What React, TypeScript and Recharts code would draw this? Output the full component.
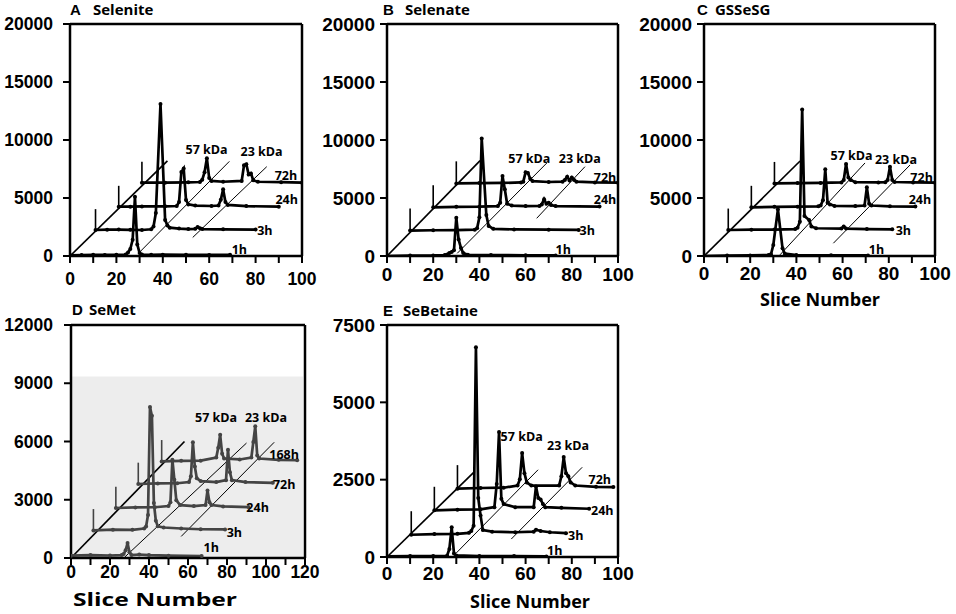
import React from 'react';
import { LineChart, Line, XAxis, YAxis, ReferenceLine, ReferenceDot, ReferenceArea } from 'recharts';

type Pt = [number, number];

// ---------------- Panel A : Selenite ----------------
const A_names = ['1h', '3h', '24h', '72h'];
const A_sliceOffset = [0, 11, 21, 31];
const A_countOffset = [0, 2240, 4250, 6320];
const A_1h: Pt[] = [[0,60],[5,80],[10,100],[15,90],[20,100],[24,120],[25,300],[26,600],[27,1400],[28,5100],[29,1000],[30,250],[31,120],[35,100],[40,110],[50,100],[60,90],[69,100]];
const A_3h: Pt[] = [[0,0],[5,30],[10,40],[15,20],[20,0],[24,60],[25,300],[26,1460],[28,10860],[30,860],[31,400],[32,200],[36,120],[40,80],[43,100],[44,250],[45,150],[46,80],[55,60],[69,40]];
const A_24h: Pt[] = [[0,0],[5,0],[10,20],[20,30],[25,60],[26,400],[27,3000],[28,3300],[29,580],[30,200],[33,100],[40,60],[43,100],[44,600],[45,1500],[46,400],[47,150],[55,50],[69,0]];
const A_72h: Pt[] = [[0,0],[10,0],[20,30],[25,60],[26,250],[27,900],[28,2100],[29,400],[30,150],[35,80],[43,150],[44,1500],[45,1600],[46,700],[47,800],[48,200],[50,80],[60,40],[69,0]];

// ---------------- Panel B : Selenate ----------------
const B_names = ['1h', '3h', '24h', '72h'];
const B_sliceOffset = [0, 10, 20, 30];
const B_countOffset = [0, 2190, 4200, 6260];
const B_1h: Pt[] = [[0,0],[10,40],[20,50],[25,80],[27,250],[28,350],[29,500],[30,3300],[31,1430],[32,700],[33,250],[35,100],[45,80],[60,60],[73,50]];
const B_3h: Pt[] = [[0,0],[10,30],[20,40],[28,80],[29,200],[30,1140],[31,7940],[33,1340],[34,400],[36,150],[45,100],[60,80],[73,60]];
const B_24h: Pt[] = [[0,0],[10,40],[20,50],[28,100],[29,400],[30,2700],[31,1550],[32,300],[34,150],[40,100],[46,120],[47,250],[48,700],[49,300],[50,400],[51,200],[53,100],[72,60]];
const B_72h: Pt[] = [[0,0],[10,30],[20,40],[28,80],[29,150],[30,960],[31,900],[32,400],[33,200],[40,120],[46,150],[47,300],[48,580],[49,250],[50,500],[51,300],[52,150],[60,80],[70,60]];

// ---------------- Panel C : GSSeSG ----------------
const C_names = ['1h', '3h', '24h', '72h'];
const C_sliceOffset = [0, 10.5, 20.5, 30.5];
const C_countOffset = [0, 2240, 4200, 6260];
const C_1h: Pt[] = [[0,0],[10,40],[20,50],[28,80],[29,150],[30,950],[32,4020],[34,660],[35,200],[40,80],[55,60],[71,50]];
const C_3h: Pt[] = [[0,0],[10,30],[20,40],[29,80],[30,200],[31,720],[32,10400],[33,1200],[35,860],[36,300],[38,150],[49,120],[50,300],[51,120],[60,80],[71,60]];
const C_24h: Pt[] = [[0,0],[10,40],[20,50],[29,80],[30,150],[31,600],[32,3270],[33,400],[34,250],[36,120],[45,100],[49,150],[50,1720],[51,300],[52,150],[60,80],[71,60]];
const C_72h: Pt[] = [[0,0],[10,30],[20,40],[29,80],[30,300],[31,1670],[32,500],[33,300],[35,100],[45,80],[48,100],[49,300],[50,1440],[51,300],[52,120],[60,80],[69.5,60]];

// ---------------- Panel D : SeMet ----------------
const D_names = ['1h', '3h', '24h', '72h', '168h'];
const D_sliceOffset = [0, 11.5, 23, 34.5, 46.5];
const D_countOffset = [0, 1420, 2575, 3810, 4975];
const D_1h: Pt[] = [[0,120],[10,150],[20,130],[26,150],[27,200],[28,400],[29,770],[30,300],[31,150],[35,180],[40,150],[50,120],[67,100]];
const D_3h: Pt[] = [[0,0],[10,40],[20,30],[26,100],[27,200],[28,800],[29,6360],[30,5900],[31,1410],[32,500],[33,210],[36,150],[45,100],[55,60],[67.5,50]];
const D_24h: Pt[] = [[0,0],[10,30],[20,40],[27,100],[28,300],[29,2490],[30,1460],[31,400],[33,150],[40,100],[46,150],[47,900],[48,300],[49,150],[55,80],[68,50]];
const D_72h: Pt[] = [[0,0],[10,30],[20,40],[26,100],[27,400],[28,2150],[29,900],[30,300],[32,150],[40,100],[45,200],[46,1770],[47,600],[48,200],[55,100],[69,60]];
const D_168h: Pt[] = [[0,0],[10,30],[20,40],[28,200],[29,700],[30,1370],[31,400],[32,150],[40,100],[46,200],[47,1000],[48,1810],[49,300],[50,150],[60,80],[69.5,60]];

// ---------------- Panel E : SeBetaine ----------------
const E_names = ['1h', '3h', '24h', '72h'];
const E_sliceOffset = [0, 10.5, 20.5, 30.5];
const E_countOffset = [0, 720, 1510, 2210];
const E_1h: Pt[] = [[0,20],[10,30],[20,30],[26,40],[27,260],[28,960],[29,110],[30,50],[40,30],[55,30],[69,20]];
const E_3h: Pt[] = [[0,0],[10,20],[20,30],[25,60],[26,120],[27,290],[28,6060],[29,1190],[30,620],[31,150],[35,100],[45,80],[53,100],[54,160],[56,120],[60,80],[67,50]];
const E_24h: Pt[] = [[0,0],[10,20],[20,30],[26,100],[27,850],[28,2530],[29,370],[30,200],[35,100],[43,100],[44,770],[45,400],[46,350],[47,200],[48,100],[55,80],[67,50]];
const E_72h: Pt[] = [[0,0],[10,20],[20,30],[26,100],[27,300],[28,1150],[29,500],[30,200],[32,100],[44,100],[45,400],[46,1020],[47,500],[48,400],[49,200],[51,100],[60,60],[67.5,50]];

// ---------------- axis ticks ----------------
const ticks100 = [0, 10, 20, 30, 40, 50, 60, 70, 80, 90, 100];
const ticks120 = [0, 10, 20, 30, 40, 50, 60, 70, 80, 90, 100, 110, 120];
const yTicks20000 = [0, 5000, 10000, 15000, 20000];
const yTicks12000 = [0, 3000, 6000, 9000, 12000];
const yTicks7500 = [0, 2500, 5000, 7500];

// ---------------- annotation guides (data coords) ----------------
type Seg = [number, number, number, number];
const A_guides: Seg[] = [[0, 0, 42, 8200], [30.2, 370, 68.7, 8160], [52.9, 1600, 84.8, 7700]];
const B_guides: Seg[] = [[0, 0, 40.3, 8220], [30.4, 230, 69.2, 8020], [64.8, 3250, 85.7, 7700]];
const C_guides: Seg[] = [[0, 0, 41.6, 8190], [32.9, 100, 69.7, 8020], [56, 1100, 89.2, 7850]];
const D_guides: Seg[] = [[0, 0, 58.2, 6000], [27.6, 50, 90, 5920], [56.5, 1110, 104.2, 5960]];
const E_guides: Seg[] = [[0, 0, 38, 2770], [30, 130, 65.4, 2820], [53.8, 580, 84.5, 2900]];

type Lbl = [string, number, number];
const A_labels: Lbl[] = [['57 kDa', 58.9, 9140], ['23 kDa', 82.6, 8990], ['72h', 93.1, 6920], ['24h', 93.4, 4830], ['3h', 84, 2180], ['1h', 73, 580]];
const B_labels: Lbl[] = [['57 kDa', 61.6, 8420], ['23 kDa', 83.5, 8420], ['72h', 94.4, 6750], ['24h', 94.4, 4830], ['3h', 86.7, 2160], ['1h', 76.3, 580]];
const C_labels: Lbl[] = [['57 kDa', 63.9, 8620], ['23 kDa', 83.1, 8340], ['72h', 94.2, 6750], ['24h', 93.5, 4830], ['3h', 86.3, 2160], ['1h', 74.7, 580]];
const D_labels: Lbl[] = [['57 kDa', 74.4, 7210], ['23 kDa', 100, 7210], ['168h', 109.3, 5320], ['72h', 109.3, 3770], ['24h', 95.7, 2575], ['3h', 83.8, 1320], ['1h', 71.9, 515]];
const E_labels: Lbl[] = [['57 kDa', 58.3, 3880], ['23 kDa', 78.4, 3600], ['72h', 92.1, 2500], ['24h', 93.2, 1500], ['3h', 81.7, 690], ['1h', 72.6, 210]];

interface Cfg {
  left: number; top: number; width: number; height: number;
  marginTop: number; marginRight: number; yAxisWidth: number; xAxisHeight: number;
  xMax: number; yMax: number; xTicks: number[]; yTicks: number[];
  traces: Pt[][]; names: string[]; offX: number[]; offY: number[];
  tickLen: number; guides: Seg[]; labels: Lbl[];
  color: string; fontSize: number; xTickMargin: number; yTickMargin: number;
  shadeTop?: number;
}

const tickFont = "'Liberation Sans', Arial, sans-serif";
const textFont = "'Open Sans', sans-serif";

function Panel({ c }: { c: Cfg }) {
  const series = c.traces.map((t, i) => t.map(([s, v]) => ({ x: s + c.offX[i], y: v + c.offY[i] })));
  return (
    <div style={{ position: 'absolute', left: c.left, top: c.top }}>
      <LineChart width={c.width} height={c.height} margin={{ top: c.marginTop, right: c.marginRight, left: 0, bottom: 0 }}>
        <XAxis
          type="number" dataKey="x" domain={[0, c.xMax]} ticks={c.xTicks} interval={0}
          tickFormatter={(v: number) => (v % 20 === 0 ? String(v) : '')}
          height={c.xAxisHeight} tickSize={7} tickMargin={c.xTickMargin} allowDataOverflow
          axisLine={{ stroke: '#000', strokeWidth: 2.5 }} tickLine={{ stroke: '#000', strokeWidth: 2 }}
          tick={{ fill: '#000', fontSize: c.fontSize, fontWeight: 'bold', fontFamily: tickFont }}
        />
        <YAxis
          type="number" domain={[0, c.yMax]} ticks={c.yTicks} interval={0} width={c.yAxisWidth}
          tickSize={7} tickMargin={c.yTickMargin} allowDataOverflow
          axisLine={{ stroke: '#000', strokeWidth: 2.5 }} tickLine={{ stroke: '#000', strokeWidth: 2 }}
          tick={{ fill: '#000', fontSize: c.fontSize, fontWeight: 'bold', fontFamily: tickFont }}
        />
        {c.shadeTop ? (
          <ReferenceArea x1={0.5} x2={c.xMax - 1} y1={0} y2={c.shadeTop} fill="#ededed" fillOpacity={1} stroke="none" ifOverflow="visible" />
        ) : null}
        <ReferenceLine y={c.yMax} stroke="#000" strokeWidth={2.5} ifOverflow="visible" />
        <ReferenceLine x={c.xMax} stroke="#000" strokeWidth={2.5} ifOverflow="visible" />
        {c.guides.map((g, i) => (
          <ReferenceLine key={'g' + i} segment={[{ x: g[0], y: g[1] }, { x: g[2], y: g[3] }]}
            stroke="#000" strokeWidth={i === 0 ? 1.7 : 1} ifOverflow="visible" />
        ))}
        {c.offX.slice(1).map((ox, i) => (
          <ReferenceLine key={'t' + i} segment={[{ x: ox, y: c.offY[i + 1] }, { x: ox, y: c.offY[i + 1] + c.tickLen }]}
            stroke={c.color} strokeWidth={1.6} ifOverflow="visible" />
        ))}
        {series.map((d, i) => (
          <Line key={c.names[i]} data={d} dataKey="y" type="linear" stroke={c.color} strokeWidth={2.7}
            dot={{ r: 2, fill: c.color, stroke: c.color, strokeWidth: 0 }} isAnimationActive={false} />
        ))}
        {c.labels.map((l, i) => (
          <ReferenceDot key={'l' + i} x={l[1]} y={l[2]} r={0} ifOverflow="visible"
            shape={(p: any) => (
              <text x={p.cx} y={p.cy} dy="0.35em" textAnchor="middle" fontSize={12.5} fontWeight="bold"
                fontFamily={textFont} fill="#000">{l[0]}</text>
            )} />
        ))}
      </LineChart>
    </div>
  );
}

const panels: Cfg[] = [
  { left: 0, top: 0, width: 330, height: 300, marginTop: 24, marginRight: 28, yAxisWidth: 70, xAxisHeight: 44,
    xMax: 100, yMax: 20000, xTicks: ticks100, yTicks: yTicks20000,
    traces: [A_1h, A_3h, A_24h, A_72h], names: A_names, offX: A_sliceOffset, offY: A_countOffset,
    tickLen: 1800, guides: A_guides, labels: A_labels, color: '#000', fontSize: 17.5, xTickMargin: 10, yTickMargin: 10 },
  { left: 317, top: 0, width: 329, height: 300, marginTop: 24, marginRight: 28, yAxisWidth: 70, xAxisHeight: 44,
    xMax: 100, yMax: 20000, xTicks: ticks100, yTicks: yTicks20000,
    traces: [B_1h, B_3h, B_24h, B_72h], names: B_names, offX: B_sliceOffset, offY: B_countOffset,
    tickLen: 1900, guides: B_guides, labels: B_labels, color: '#000', fontSize: 19, xTickMargin: 5, yTickMargin: 5 },
  { left: 634, top: 0, width: 329, height: 300, marginTop: 24, marginRight: 28, yAxisWidth: 70, xAxisHeight: 44,
    xMax: 100, yMax: 20000, xTicks: ticks100, yTicks: yTicks20000,
    traces: [C_1h, C_3h, C_24h, C_72h], names: C_names, offX: C_sliceOffset, offY: C_countOffset,
    tickLen: 1850, guides: C_guides, labels: C_labels, color: '#000', fontSize: 19, xTickMargin: 4, yTickMargin: 5 },
  { left: 0, top: 300, width: 333, height: 302, marginTop: 25, marginRight: 28, yAxisWidth: 71, xAxisHeight: 44,
    xMax: 120, yMax: 12000, xTicks: ticks120, yTicks: yTicks12000,
    traces: [D_1h, D_3h, D_24h, D_72h, D_168h], names: D_names, offX: D_sliceOffset, offY: D_countOffset,
    tickLen: 1100, guides: D_guides, labels: D_labels, color: '#444', fontSize: 17.5, xTickMargin: 1, yTickMargin: 11,
    shadeTop: 9350 },
  { left: 317, top: 300, width: 329, height: 301, marginTop: 25, marginRight: 28, yAxisWidth: 70, xAxisHeight: 44,
    xMax: 100, yMax: 7500, xTicks: ticks100, yTicks: yTicks7500,
    traces: [E_1h, E_3h, E_24h, E_72h], names: E_names, offX: E_sliceOffset, offY: E_countOffset,
    tickLen: 760, guides: E_guides, labels: E_labels, color: '#000', fontSize: 19, xTickMargin: 3, yTickMargin: 5 },
];

const titles: [string, number, string, number, number][] = [
  ['A', 70, 'Selenite', 93, 15],
  ['B', 383, 'Selenate', 405, 15],
  ['C', 697, 'GSSeSG', 715, 15],
  ['D', 72, 'SeMet', 89, 315],
  ['E', 383, 'SeBetaine', 403, 316],
];

// text, centre x, baseline y, font size, rendered length
const axisTitles: [string, number, number, number, number][] = [
  ['Slice Number', 820, 306, 18, 120],
  ['Slice Number', 155, 606, 18, 164],
  ['Slice Number', 530, 608, 18.5, 120],
];

export default function App() {
  return (
    <div style={{ position: 'absolute', left: 0, top: 0, width: 956, height: 614, background: '#fff', overflow: 'hidden' }}>
      {panels.map((p, i) => <Panel key={i} c={p} />)}
      <svg width={956} height={614} style={{ position: 'absolute', left: 0, top: 0, pointerEvents: 'none' }}>
        {titles.map((t, i) => (
          <g key={i}>
            <text x={t[1]} y={t[4]} fontSize={15} fontWeight="bold" fontFamily={tickFont} fill="#000">{t[0]}</text>
            <text x={t[3]} y={t[4]} fontSize={15} fontWeight="bold" fontFamily={textFont} fill="#000">{t[2]}</text>
          </g>
        ))}
        {axisTitles.map((t, i) => (
          <text key={'a' + i} x={t[1]} y={t[2]} textAnchor="middle" fontSize={t[3]} textLength={t[4]}
            lengthAdjust="spacingAndGlyphs" fontWeight="bold" fontFamily={textFont} fill="#000">{t[0]}</text>
        ))}
      </svg>
    </div>
  );
}
